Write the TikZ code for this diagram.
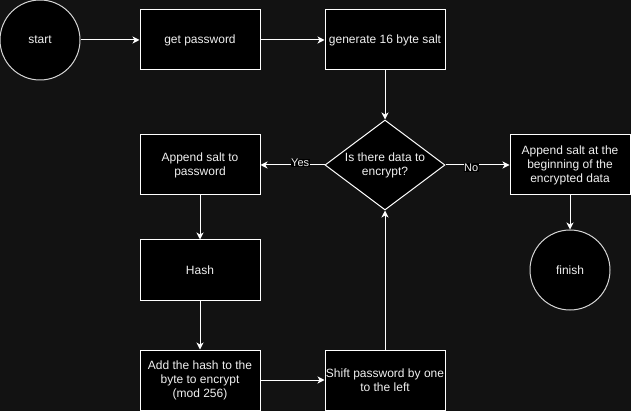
\documentclass[tikz,border=0pt]{standalone}
\usepackage{fontspec}
\setmainfont{Liberation Sans}
\usetikzlibrary{arrows.meta,shapes.geometric}
\definecolor{canvas}{HTML}{121212}
\definecolor{rim}{HTML}{D6D6D6}
\definecolor{ink}{HTML}{F0F0F0}

\begin{document}
\begin{tikzpicture}[x=1pt,y=-1pt,>={Stealth[length=7pt,width=7pt,inset=2pt]},
		every node/.style={font=\fontsize{12}{14}\selectfont,text=ink},
		proc/.style={draw=white,fill=black,line width=1pt,minimum width=120pt,minimum height=60pt,inner sep=0pt,align=center},
		term/.style={circle,draw=rim,fill=black,line width=1pt,minimum size=80pt,inner sep=0pt},
		ask/.style={diamond,aspect=1.3333,draw=white,fill=black,line width=1pt,minimum width=120pt,minimum height=90pt,inner sep=0pt,align=center},
		flow/.style={->,draw=white,line width=1pt},
		tag/.style={fill=black,inner sep=0.5pt,font=\fontsize{11}{13}\selectfont}]
		\fill[canvas] (0,0) rectangle (631,411);
		\useasboundingbox (0,0) rectangle (631,411);
		% top row
		\node[term] (start) at (40,40) {start};
		\node[proc] (getpw) at (200,40) {get password};
		\node[proc] (salt) at (385,40) {generate 16 byte salt};
		% middle row
		\node[ask] (check) at (385,165) {Is there data to\\encrypt?};
		\node[proc] (addsalt) at (200,165) {Append salt to\\password};
		\node[proc] (prepend) at (570,165) {Append salt at the\\beginning of the\\encrypted data};
		\node[term] (finish) at (570,270) {finish};
		% loop body
		\node[proc] (hash) at (200,270) {Hash};
		\node[proc] (addhash) at (200,380) {Add the hash to the\\byte to encrypt\\(mod 256)};
		\node[proc] (shift) at (385,380) {Shift password by one\\to the left};
		\draw[flow] (start) -- (getpw);
		\draw[flow] (getpw) -- (salt);
		\draw[flow] (salt) -- (check);
		\draw[flow] (check) -- node[tag,pos=0.38,yshift=2pt] {Yes} (addsalt);
		\draw[flow] (check) -- node[tag,pos=0.4,yshift=-2.5pt] {No} (prepend);
		\draw[flow] (addsalt) -- (hash);
		\draw[flow] (hash) -- (addhash);
		\draw[flow] (addhash) -- (shift);
		\draw[flow] (shift) -- (check);
		\draw[flow] (prepend) -- (finish);
	\end{tikzpicture}
\end{document}
